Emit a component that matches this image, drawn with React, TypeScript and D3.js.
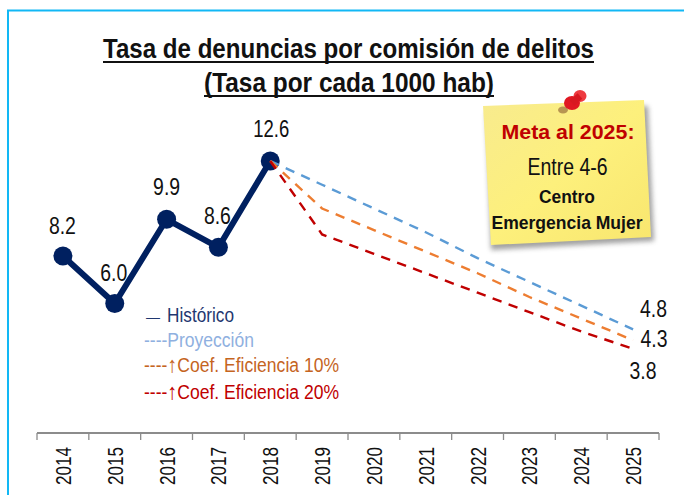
import React from "react";
import * as d3 from "d3";

const years = ["2014","2015","2016","2017","2018","2019","2020","2021","2022","2023","2024","2025"];
const historico = [8.2, 6.0, 9.9, 8.6, 12.6];
const proyeccion = [12.6, 11.5, 10.4, 9.3, 8.1, 7.0, 5.9, 4.8];
const coef10 = [12.6, 10.4, 9.4, 8.4, 7.4, 6.3, 5.3, 4.3];
const coef20 = [12.6, 9.2, 8.3, 7.4, 6.5, 5.6, 4.7, 3.9];
const histLabels = ["8.2","6.0","9.9","8.6","12.6"];
const legend = [
  { t: "Histórico", c: "#1f3770" },
  { t: "----Proyección", c: "#8fb0e0" },
  { t: "Coef. Eficiencia 10%", c: "#c5651f" },
  { t: "Coef. Eficiencia 20%", c: "#c00000" },
];

const F = "'Liberation Sans', Arial, sans-serif";

export default function App() {
  const x = d3.scaleBand().domain(years).range([37, 659]);
  const y = d3.scaleLinear().domain([0, 12.6]).range([433, 161]);
  const px = (i: number) => (x(years[i]) as number) + x.bandwidth() / 2;
  const line = d3.line<number>().x((_, i) => px(i)).y((d) => y(d));
  const lineFrom = (start: number) =>
    d3.line<number>().x((_, i) => px(i + start)).y((d) => y(d));
  const ticks = [...years.map((yr) => x(yr) as number), 659];
  const labelOffset = [
    [-0.5, -22], [-1, -22], [0, -24], [-1, -23], [1, -24],
  ];
  return (
    <svg width={684} height={495} style={{ position: "absolute", left: 0, top: 0, background: "#fff" }}>
      <defs>
        <linearGradient id="note" x1="0" y1="0" x2="1" y2="1">
          <stop offset="0" stopColor="#f8eb8e" />
          <stop offset="0.5" stopColor="#fdf07c" />
          <stop offset="1" stopColor="#f8e66e" />
        </linearGradient>
        <filter id="sh" x="-10%" y="-10%" width="120%" height="125%">
          <feGaussianBlur stdDeviation="2.5" />
        </filter>
      </defs>
      <path d="M8 497V10.5H684" fill="none" stroke="#12b8f5" strokeWidth={2} />

      <text x={348.5} y={58} textAnchor="middle" fontFamily={F} fontWeight={700} fontSize={27} textLength={491} lengthAdjust="spacingAndGlyphs" fill="#111">Tasa de denuncias por comisión de delitos</text>
      <rect x={103} y={61} width={491} height={2} fill="#111" />
      <text x={349} y={92} textAnchor="middle" fontFamily={F} fontWeight={700} fontSize={27} textLength={290} lengthAdjust="spacingAndGlyphs" fill="#111">(Tasa por cada 1000 hab)</text>
      <rect x={204} y={95} width={290} height={2} fill="#111" />

      {/* axis */}
      <g stroke="#8c8c8c" fill="none">
        <line x1={37} x2={659} y1={433} y2={433} strokeWidth={2} />
        {ticks.map((t, i) => <line key={i} x1={t} x2={t} y1={433} y2={440} strokeWidth={1.3} />)}
      </g>
      {years.map((yr) => {
        const cx = (x(yr) as number) + x.bandwidth() / 2;
        return (
          <text key={yr} transform={`translate(${cx + 8},485) rotate(-90)`} fontFamily={F} fontSize={22} textLength={38} lengthAdjust="spacingAndGlyphs" fill="#111">{yr}</text>
        );
      })}

      {/* series */}
      <path d={line(historico) as string} fill="none" stroke="#002060" strokeWidth={6} strokeLinejoin="round" />
      {historico.map((d, i) => <circle key={i} cx={px(i)} cy={y(d)} r={9.5} fill="#002060" />)}
      <path d={lineFrom(4)(proyeccion) as string} fill="none" stroke="#5b9bd5" strokeWidth={2.4} strokeDasharray="9.5 7.5" />
      <path d={lineFrom(4)(coef10) as string} fill="none" stroke="#ed7d31" strokeWidth={2.4} strokeDasharray="9.5 7.5" />
      <path d={lineFrom(4)(coef20) as string} fill="none" stroke="#c00000" strokeWidth={2.4} strokeDasharray="9.5 7.5" />

      {historico.map((d, i) => (
        <text key={i} x={px(i) + labelOffset[i][0]} y={y(d) + labelOffset[i][1]} textAnchor="middle" fontFamily={F} fontSize={23} textLength={histLabels[i].length > 3 ? 36 : 27} lengthAdjust="spacingAndGlyphs" fill="#111">{histLabels[i]}</text>
      ))}
      <text x={653.5} y={317} textAnchor="middle" fontFamily={F} fontSize={23} textLength={27} lengthAdjust="spacingAndGlyphs" fill="#111">4.8</text>
      <text x={654} y={347} textAnchor="middle" fontFamily={F} fontSize={23} textLength={27} lengthAdjust="spacingAndGlyphs" fill="#111">4.3</text>
      <text x={643} y={379} textAnchor="middle" fontFamily={F} fontSize={23} textLength={27} lengthAdjust="spacingAndGlyphs" fill="#111">3.8</text>

      {/* legend */}
      <text x={146} y={322} fontFamily={F} fontSize={14} fill={legend[0].c}>—</text>
      <text x={167} y={322} fontFamily={F} fontSize={19.5} textLength={67} lengthAdjust="spacingAndGlyphs" fill={legend[0].c}>{legend[0].t}</text>
      <text x={144} y={347} fontFamily={F} fontSize={19.5} textLength={110} lengthAdjust="spacingAndGlyphs" fill={legend[1].c}>{legend[1].t}</text>
      {[legend[2], legend[3]].map((l, i) => (
        <text key={l.t} x={144} y={i === 0 ? 372 : 399} fill={l.c} fontFamily={F} fontSize={19.5} textLength={195} lengthAdjust="spacingAndGlyphs">
          ----<tspan fontSize={22}>↑</tspan>{l.t}
        </text>
      ))}

      {/* sticky note */}
      <polygon points="486,112 648,106 654,241 491,250" fill="#555" opacity={0.55} filter="url(#sh)" />
      <polygon points="483,106 644,100 651,237 491,245" fill="url(#note)" />
      <ellipse cx={563} cy={110} rx={5} ry={3.5} fill="#8a5a30" opacity={0.6} />
      <ellipse cx={572} cy={103} rx={8} ry={7} fill="#e01822" />
      <ellipse cx={580} cy={96} rx={6.5} ry={6} fill="#ee3a3f" />
      <line x1={572} y1={103} x2={580} y2={96} stroke="#d81820" strokeWidth={7} />
      <text x={568} y={139} textAnchor="middle" fontFamily={F} fontWeight={700} fontSize={20.5} textLength={133} lengthAdjust="spacingAndGlyphs" fill="#c00000">Meta al 2025:</text>
      <text x={567.5} y={175} textAnchor="middle" fontFamily={F} fontSize={23} textLength={80} lengthAdjust="spacingAndGlyphs" fill="#111">Entre 4-6</text>
      <text x={567} y={203} textAnchor="middle" fontFamily={F} fontWeight={700} fontSize={19} textLength={56} lengthAdjust="spacingAndGlyphs" fill="#111">Centro</text>
      <text x={567} y={229} textAnchor="middle" fontFamily={F} fontWeight={700} fontSize={19} textLength={151} lengthAdjust="spacingAndGlyphs" fill="#111">Emergencia Mujer</text>
    </svg>
  );
}
